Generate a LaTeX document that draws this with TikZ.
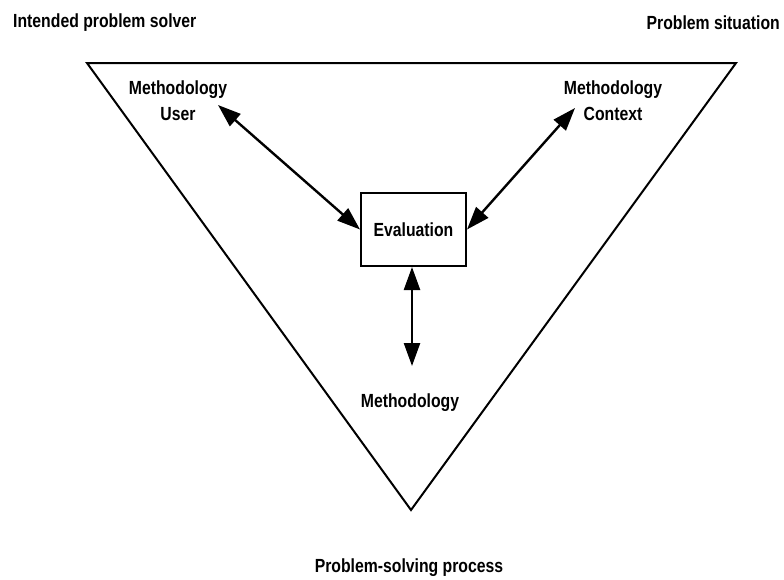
\documentclass[tikz,border=0pt]{standalone}
\usepackage{fontspec}
\setmainfont{Liberation Sans}[FakeStretch=0.83]
\usetikzlibrary{arrows.meta}
\begin{document}
\begin{tikzpicture}[x=1pt,y=-1pt,
  lbl/.style={font=\fontsize{19}{22}\selectfont\bfseries, align=center, inner sep=0pt},
  link/.style={line width=2.4pt, {Triangle[length=23pt,width=16pt]}-{Triangle[length=23pt,width=16pt]}},
  frame/.style={line width=2pt, line join=miter}]
\useasboundingbox (0,0) rectangle (784,579);
% outer triangle
\coordinate (tl) at (87,63);
\coordinate (tr) at (736,63);
\coordinate (bt) at (411,510);
\draw[frame] (tl) -- (tr) -- (bt) -- cycle;
% corner captions
\node[lbl, anchor=west] (solver) at (13,23) {Intended problem solver};
\node[lbl, anchor=east] (situation) at (780,23) {Problem situation};
\node[lbl] (process) at (409,568) {Problem-solving process};
% inner labels
\node[lbl] (user) at (178,101) {Methodology\\[4pt]User};
\node[lbl] (context) at (613,101) {Methodology\\[4pt]Context};
\node[lbl] (method) at (410,403) {Methodology};
% evaluation box
\node[draw, line width=2pt, minimum width=105pt, minimum height=73pt, inner sep=0pt,
  font=\fontsize{19}{22}\selectfont\bfseries] (eval) at (413.5,229.5) {Evaluation};
% connectors
\coordinate (uEnd) at (218,105);
\coordinate (cEnd) at (575,108);
\coordinate (mEnd) at (412,366);
\draw[link] (uEnd) -- (eval.west);
\draw[link] (cEnd) -- (eval.east);
\draw[link] (eval.south -| mEnd) -- (mEnd);
\end{tikzpicture}
\end{document}
